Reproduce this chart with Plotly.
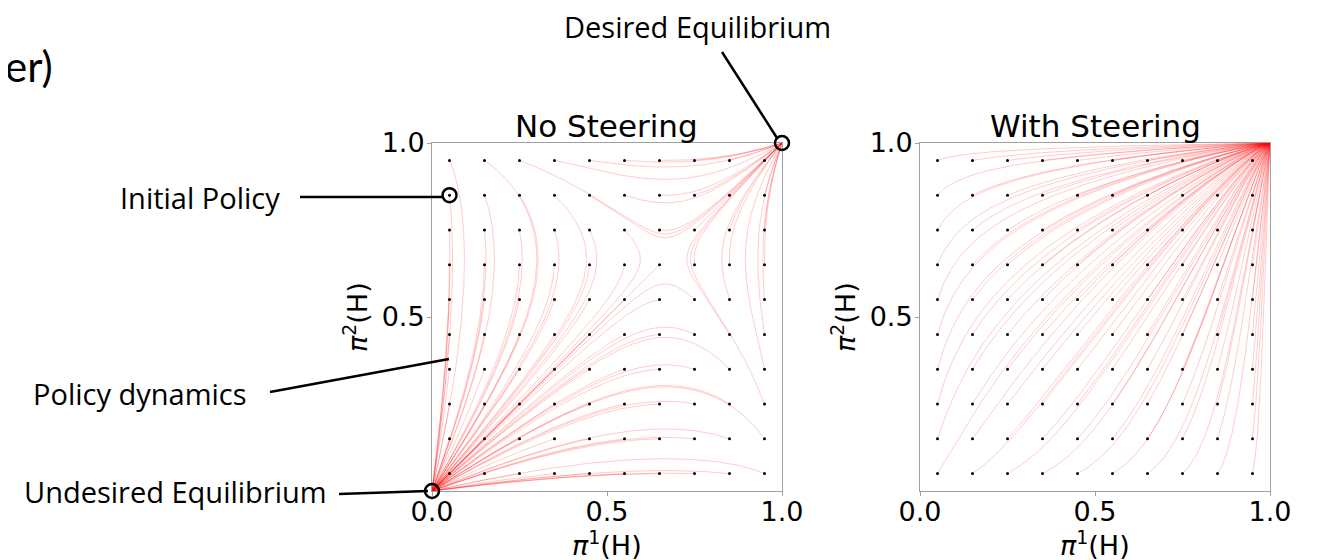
import numpy as np
import plotly.graph_objects as go

# ---------------- data ----------------
grid_vals = [0.05, 0.15, 0.25, 0.35, 0.45, 0.55, 0.65, 0.75, 0.85, 0.95]
x_ticks = [0.0, 0.5, 1.0]
x_tick_text = ["0.0", "0.5", "1.0"]
y_ticks = [0.5, 1.0]
y_tick_text = ["0.5", "1.0"]
panel_titles = ["No Steering", "With Steering"]
x_label = "<i>π</i><sup>1</sup>(H)"
y_label = "<i>π</i><sup>2</sup>(H)"
# stag-hunt advantage of H: gain * other - threshold (+ steering bonus per player)
stag_gain = 3.0
stag_threshold = 2.0
steer_bonus_p1 = [0.0, 2.8]
steer_bonus_p2 = [0.0, 3.3]
desired_eq = [1.0, 1.0]
undesired_eq = [0.0, 0.0]
initial_policy = [0.05, 0.85]

W, H = 1320, 560
OFF = 8  # page body margin of the rendered html


def px(xp, yp):
    return (xp - OFF) / W, 1 - (yp - OFF) / H


dom_x = [[(432 - OFF) / W, (782 - OFF) / W], [(920 - OFF) / W, (1270 - OFF) / W]]
dom_y = [1 - (491 - OFF) / H, 1 - (143 - OFF) / H]


def field(x, y, b1, b2):
    dx = x * (1 - x) * (stag_gain * y - stag_threshold + b1)
    dy = y * (1 - y) * (stag_gain * x - stag_threshold + b2)
    return dx, dy


def trajectories(b1, b2, dt=0.02, steps=1800):
    X0, Y0 = np.meshgrid(grid_vals, grid_vals)
    x = X0.ravel().astype(float)
    y = Y0.ravel().astype(float)
    xs, ys = [x.copy()], [y.copy()]
    for _ in range(steps):
        k1x, k1y = field(x, y, b1, b2)
        k2x, k2y = field(x + dt / 2 * k1x, y + dt / 2 * k1y, b1, b2)
        k3x, k3y = field(x + dt / 2 * k2x, y + dt / 2 * k2y, b1, b2)
        k4x, k4y = field(x + dt * k3x, y + dt * k3y, b1, b2)
        x = x + dt / 6 * (k1x + 2 * k2x + 2 * k3x + k4x)
        y = y + dt / 6 * (k1y + 2 * k2y + 2 * k3y + k4y)
        xs.append(x.copy())
        ys.append(y.copy())
    xs = np.array(xs)
    ys = np.array(ys)
    out = []
    for i in range(xs.shape[1]):
        px_, py_ = xs[:, i], ys[:, i]
        keep_x, keep_y = [px_[0]], [py_[0]]
        for a, b in zip(px_[1:], py_[1:]):
            if np.hypot(a - keep_x[-1], b - keep_y[-1]) > 0.003:
                keep_x.append(a)
                keep_y.append(b)
        keep_x.append(px_[-1])
        keep_y.append(py_[-1])
        out.append((keep_x, keep_y))
    return out


fig = go.Figure()
tick_font = dict(family="DejaVu Sans", size=27, color="black")

for p in range(2):
    xa = "x" if p == 0 else "x2"
    ya = "y" if p == 0 else "y2"
    for tx, ty in trajectories(steer_bonus_p1[p], steer_bonus_p2[p]):
        fig.add_trace(go.Scatter(x=tx, y=ty, mode="lines", xaxis=xa, yaxis=ya,
                                 line=dict(color="rgba(255,0,0,0.2)", width=1),
                                 hoverinfo="skip", showlegend=False))
    GX, GY = np.meshgrid(grid_vals, grid_vals)
    fig.add_trace(go.Scatter(x=GX.ravel(), y=GY.ravel(), mode="markers", xaxis=xa, yaxis=ya,
                             marker=dict(color="black", size=3), hoverinfo="skip",
                             showlegend=False))

axis_common = dict(range=[0, 1], showline=True, mirror=True, linecolor="#a0a0a0", linewidth=1,
                   ticks="outside", ticklen=4, tickcolor="#a0a0a0", showgrid=False,
                   zeroline=False, tickfont=tick_font, automargin=False)

layout = dict(width=W, height=H, margin=dict(l=0, r=0, t=0, b=0, autoexpand=False),
              plot_bgcolor="white", paper_bgcolor="white", showlegend=False)
for p in range(2):
    sfx = "" if p == 0 else "2"
    layout["xaxis" + sfx] = dict(axis_common, domain=dom_x[p], anchor="y" + sfx,
                                 tickvals=x_ticks, ticktext=x_tick_text, ticklabelstandoff=-7)
    layout["yaxis" + sfx] = dict(axis_common, domain=dom_y, anchor="x" + sfx,
                                 tickvals=y_ticks, ticktext=y_tick_text, ticklabelstandoff=-3)
fig.update_layout(**layout)


def to_paper(p, xd, yd):
    return (dom_x[p][0] + xd * (dom_x[p][1] - dom_x[p][0]),
            dom_y[0] + yd * (dom_y[1] - dom_y[0]))


annotations = []
for p in range(2):
    cx = (dom_x[p][0] + dom_x[p][1]) / 2
    _, ty = px(0, 146)
    annotations.append(dict(text=panel_titles[p], x=cx, y=ty, xref="paper", yref="paper",
                            xanchor="center", yanchor="bottom", showarrow=False,
                            font=dict(family="DejaVu Sans", size=31, color="black")))
    _, ly = px(0, 543)
    annotations.append(dict(text=x_label, x=cx, y=ly, xref="paper", yref="paper",
                            xanchor="center", yanchor="middle", showarrow=False, font=tick_font))
    lx, _ = px(355 + 488 * p, 0)
    cy = (dom_y[0] + dom_y[1]) / 2
    annotations.append(dict(text=y_label, x=lx, y=cy, xref="paper", yref="paper", textangle=-90,
                            xanchor="center", yanchor="middle", showarrow=False, font=tick_font))

lab_font = dict(family="Open Sans", size=29, color="black")
for txt, (xx, yy), anc in [("Desired Equilibrium", (697, 27), "center"),
                           ("Initial Policy", (282, 197), "right"),
                           ("Policy dynamics", (249, 393), "right"),
                           ("Undesired Equilibrium", (329, 491), "right")]:
    a, b = px(xx, yy)
    annotations.append(dict(text=txt, x=a, y=b, xref="paper", yref="paper", xanchor=anc,
                            yanchor="middle", showarrow=False, font=lab_font))
a, b = px(55, 66)
annotations.append(dict(text="er)", x=a, y=b, xref="paper", yref="paper", xanchor="right",
                        yanchor="middle", showarrow=False,
                        font=dict(family="Lato", size=42, color="black")))
fig.update_layout(annotations=annotations)

shapes = []
for (x0, y0), (x1, y1) in [((722, 52), (777, 138)), ((300, 197), (443, 197)),
                           ((270, 392), (449, 359)), ((339, 494), (428, 491))]:
    a0, b0 = px(x0, y0)
    a1, b1 = px(x1, y1)
    shapes.append(dict(type="line", xref="paper", yref="paper", x0=a0, y0=b0, x1=a1, y1=b1,
                       line=dict(color="black", width=2.5)))
r = 7
for pt in [desired_eq, initial_policy, undesired_eq]:
    cxp, cyp = to_paper(0, pt[0], pt[1])
    shapes.append(dict(type="circle", xref="paper", yref="paper",
                       x0=cxp - r / W, x1=cxp + r / W, y0=cyp - r / H, y1=cyp + r / H,
                       line=dict(color="black", width=2.5)))
fig.update_layout(shapes=shapes)

fig.write_html("out.html")
